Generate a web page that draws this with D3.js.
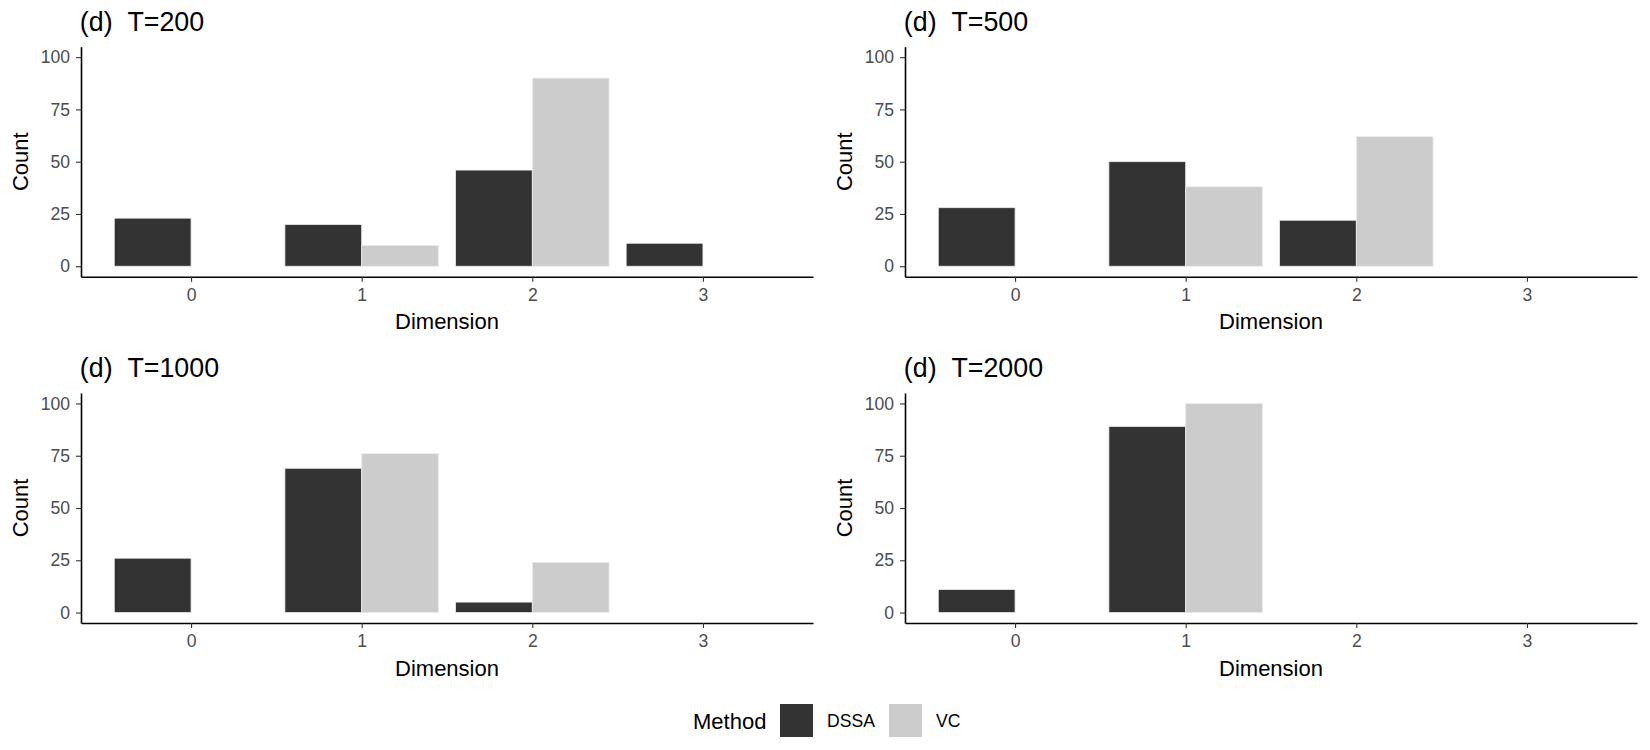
<!DOCTYPE html>
<html>
<head>
<meta charset="utf-8">
<script src="https://cdn.jsdelivr.net/npm/d3@7"></script>
<style>
  body { margin: 0; background: #fff; }
  svg { display: block; font-family: "Liberation Sans", Arial, Helvetica, sans-serif; }
  .tick text { fill: #4d4d4d; font-size: 17.6px; }
  .tick line { stroke: #333; stroke-width: 1.1; }
  .domain { stroke: #000; stroke-width: 1.6; }
</style>
</head>
<body>
<script>
// dimension categories and tick labels
var dimensions = [0, 1, 2, 3];
var countTicks = [0, 25, 50, 75, 100];
var methods = ['DSSA', 'VC'];
var methodColors = ['#333333', '#cccccc'];

// counts per dimension, one pair of arrays per sample size
var titles = ['(d)  T=200', '(d)  T=500', '(d)  T=1000', '(d)  T=2000'];
var dssaT200 = [23, 20, 46, 11];
var vcT200 = [0, 10, 90, 0];
var dssaT500 = [28, 50, 22, 0];
var vcT500 = [0, 38, 62, 0];
var dssaT1000 = [26, 69, 5, 0];
var vcT1000 = [0, 76, 24, 0];
var dssaT2000 = [11, 89, 0, 0];
var vcT2000 = [0, 100, 0, 0];

var W = 1650, H = 750;
var panelW = 732, panelH = 230;
var panelX = [81, 905], panelY = [46.7, 393];

var svg = d3.select('body').append('svg')
  .attr('width', W)
  .attr('height', H);

var panels = [
  {title: titles[0], series: [dssaT200, vcT200], x: panelX[0], y: panelY[0]},
  {title: titles[1], series: [dssaT500, vcT500], x: panelX[1], y: panelY[0]},
  {title: titles[2], series: [dssaT1000, vcT1000], x: panelX[0], y: panelY[1]},
  {title: titles[3], series: [dssaT2000, vcT2000], x: panelX[1], y: panelY[1]}
];

var barWidth = 0.9;

panels.forEach(function(p) {
  // continuous x like ggplot: bar span plus 5% expansion each side
  var lo = dimensions[0] - barWidth / 2, hi = dimensions[dimensions.length - 1] + barWidth / 2;
  var pad = (hi - lo) * 0.05;
  var x = d3.scaleLinear().domain([lo - pad, hi + pad]).range([0, panelW]);
  var y = d3.scaleLinear().domain([-5, 105]).range([panelH, 0]);

  var g = svg.append('g')
    .attr('transform', 'translate(' + p.x + ',' + p.y + ')');

  // bars, dodged
  p.series.forEach(function(vals, k) {
    g.selectAll('rect.m' + k)
      .data(vals)
      .enter().append('rect')
      .attr('class', 'm' + k)
      .attr('x', function(d, i) { return x(dimensions[i] - barWidth / 2 + k * barWidth / 2); })
      .attr('width', x(barWidth / 2) - x(0))
      .attr('y', function(d) { return y(d); })
      .attr('height', function(d) { return y(0) - y(d); })
      .attr('fill', methodColors[k])
      .attr('stroke', '#ececec')
      .attr('stroke-width', 0.8);
  });

  g.append('g')
    .attr('transform', 'translate(0,' + panelH + ')')
    .call(d3.axisBottom(x).tickValues(dimensions).tickFormat(d3.format('d'))
      .tickSize(5).tickSizeOuter(0).tickPadding(6.5));

  g.append('g')
    .call(d3.axisLeft(y).tickValues(countTicks)
      .tickSize(5).tickSizeOuter(0).tickPadding(6));

  g.selectAll('.tick text').attr('font-family', null).attr('font-size', null);

  // keep the double space of the title
  g.append('text')
    .attr('x', -1.2)
    .attr('y', -16)
    .attr('font-size', 26.8)
    .text(p.title.replace(/ /g, '\u00a0'));

  g.append('text')
    .attr('x', panelW / 2)
    .attr('y', panelH + 52.6)
    .attr('text-anchor', 'middle')
    .attr('font-size', 22)
    .text('Dimension');

  g.append('text')
    .attr('transform', 'translate(-52.7,' + (panelH / 2) + ') rotate(-90)')
    .attr('text-anchor', 'middle')
    .attr('font-size', 22)
    .text('Count');
});

// legend
var legend = svg.append('g');
legend.append('text')
  .attr('x', 693)
  .attr('y', 729)
  .attr('font-size', 22)
  .text('Method');

var keyX = [780, 889];
methods.forEach(function(m, k) {
  legend.append('rect')
    .attr('x', keyX[k])
    .attr('y', 704)
    .attr('width', 33)
    .attr('height', 33)
    .attr('fill', methodColors[k]);
  legend.append('text')
    .attr('x', keyX[k] + 47)
    .attr('y', 727)
    .attr('font-size', 17.6)
    .text(m);
});
</script>
</body>
</html>
